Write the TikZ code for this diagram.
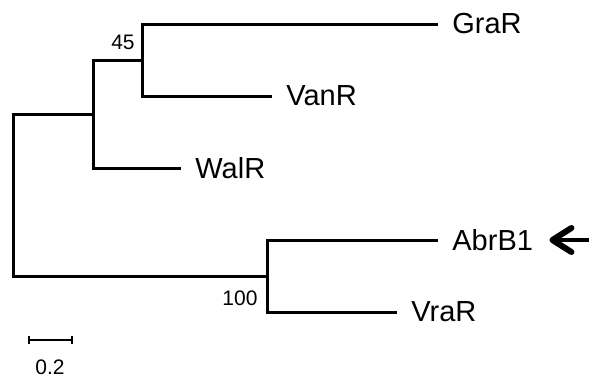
\documentclass[tikz,border=0pt]{standalone}
\usepackage{fontspec}
\setmainfont{Liberation Sans}
\usetikzlibrary{arrows.meta}

\begin{document}
\begin{tikzpicture}[x=0.5pt, y=-0.5pt, branch/.style={line width=1.5pt}, taxon/.style={anchor=west, inner xsep=7pt, inner ysep=0pt, font=\fontsize{14.5}{17}\selectfont}, support/.style={inner sep=0pt, font=\fontsize{10.5}{12}\selectfont}]
    \useasboundingbox (0, 0) rectangle (589, 381);
    \coordinate (root) at (13, 195);
    \coordinate (upper) at (93, 114);
    \coordinate (n45) at (142, 60);
    \coordinate (n100) at (267, 276);
    \node[taxon] (GraR) at (438, 24) {GraR};
    \node[taxon] (VanR) at (272, 96) {VanR};
    \node[taxon] (WalR) at (181, 168) {WalR};
    \node[taxon] (AbrB1) at (438, 240) {AbrB1};
    \node[taxon] (VraR) at (397, 312) {VraR};
    \draw[branch] (root) |- (upper) (root) |- (n100);
    \draw[branch] (upper) |- (n45) (upper) |- (WalR.west);
    \draw[branch] (n45) |- (GraR.west) (n45) |- (VanR.west);
    \draw[branch] (n100) |- (AbrB1.west) (n100) |- (VraR.west);
    \node[support] (bs45) at (123, 42) {45};
    \node[support] (bs100) at (240, 298) {100};
    %scale bar
    \coordinate (bar-l) at (28, 340);
    \coordinate (bar-r) at (73, 340);
    \draw[line width=1pt, {Bar[width=4pt]}-{Bar[width=4pt]}] (bar-l) -- (bar-r);
    \node[support] (bar-label) at (50, 367) {0.2};
    \coordinate (pointer) at (592, 240);
    \draw[line width=2pt, -{Straight Barb[length=9.5pt, width=12pt, line width=3pt, round]}, shorten >=1pt] (pointer) -- (AbrB1.east);
\end{tikzpicture}
\end{document}
